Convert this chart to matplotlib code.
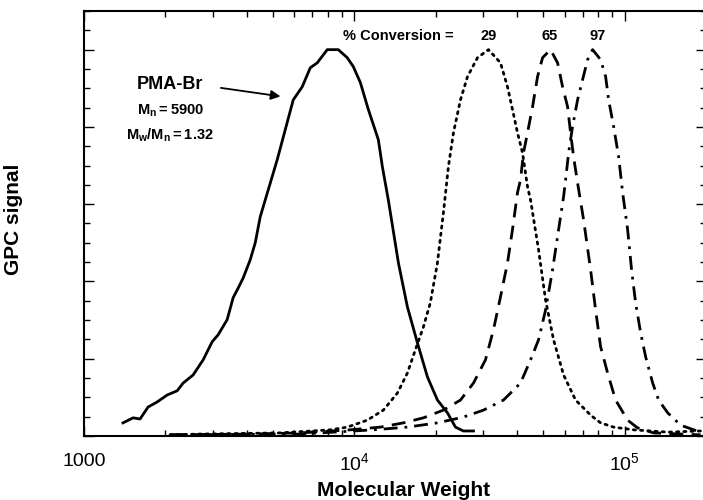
import numpy as np
import matplotlib
matplotlib.use('Agg')
import matplotlib.pyplot as plt
from matplotlib.ticker import FixedLocator, FixedFormatter, LogLocator, MultipleLocator, NullFormatter

plt.rcParams['font.family'] = ['Liberation Sans', 'DejaVu Sans']
plt.rcParams['mathtext.fontset'] = 'custom'
plt.rcParams['mathtext.rm'] = 'Liberation Sans'
plt.rcParams['mathtext.bf'] = 'Liberation Sans:bold'
plt.rcParams['mathtext.default'] = 'regular'

# PMA-Br macroinitiator trace (normalised GPC signal vs molecular weight)
mw_init = [1394, 1519, 1612, 1726, 1864, 2030, 2211, 2326, 2533, 2759, 2980, 3135,
           3385, 3563, 3719, 3880, 4120, 4300, 4486, 4682, 5185, 5944, 6418, 6871,
           7295, 7943, 8722, 9421, 9915, 10525, 11270, 12270, 12700, 13360, 14560,
           15720, 17120, 18640, 20300, 22110, 23670, 25330, 27590]
sig_init = [0.034, 0.047, 0.044, 0.075, 0.088, 0.106, 0.117, 0.137, 0.158, 0.197, 0.244, 0.262,
            0.301, 0.358, 0.383, 0.409, 0.456, 0.500, 0.567, 0.611, 0.715, 0.870, 0.904, 0.953,
            0.966, 1.000, 1.000, 0.979, 0.956, 0.915, 0.845, 0.767, 0.697, 0.611, 0.448,
            0.334, 0.241, 0.153, 0.093, 0.060, 0.023, 0.013, 0.013]

# 29 % conversion
mw_29 = [2080, 2689, 5318, 8150, 9421, 11170, 12810, 14430, 15720, 16820, 18010, 19110,
         20300, 21360, 22290, 23270, 24700, 26220, 28550, 31360, 34730, 36870, 38470,
         40150, 41900, 43730, 44870, 48040, 50990, 54580, 59450, 65850, 74840, 81500,
         91060, 108000, 144300, 191200]
sig_29 = [0.003, 0.005, 0.008, 0.016, 0.023, 0.041, 0.067, 0.111, 0.163, 0.223, 0.282, 0.345,
          0.448, 0.578, 0.697, 0.785, 0.870, 0.930, 0.979, 1.000, 0.966, 0.904, 0.845,
          0.785, 0.733, 0.645, 0.611, 0.482, 0.352, 0.249, 0.158, 0.093, 0.054, 0.034,
          0.023, 0.016, 0.010, 0.013]

# 65 % conversion
mw_65 = [2080, 4120, 6310, 9665, 12490, 15190, 18010, 21360, 24700, 27590, 30560, 32720,
         34730, 36870, 38470, 40150, 41190, 42260, 43730, 45640, 47630, 49700, 53180,
         56480, 58940, 61520, 63100, 64730, 66980, 70480, 74840, 78100, 81500, 86500,
         92620, 102600, 111700, 128100, 191200]
sig_65 = [0.003, 0.005, 0.008, 0.016, 0.023, 0.034, 0.047, 0.067, 0.093, 0.137, 0.197, 0.275,
          0.360, 0.448, 0.534, 0.630, 0.663, 0.733, 0.785, 0.852, 0.930, 0.979, 1.000,
          0.966, 0.904, 0.852, 0.785, 0.723, 0.655, 0.560, 0.430, 0.326, 0.231, 0.163,
          0.093, 0.041, 0.021, 0.008, 0.003]

# 97 % conversion
mw_97 = [2080, 6310, 11760, 15720, 20300, 25330, 30050, 35630, 41190, 44870, 48040, 50990,
         54120, 56970, 59450, 60480, 62050, 64180, 66980, 69890, 72950, 76130, 81500,
         85070, 87250, 91060, 95010, 98310, 102600, 106100, 109800, 114600, 119600,
         127000, 133600, 144300, 161200, 180100, 191200]
sig_97 = [0.003, 0.005, 0.016, 0.023, 0.034, 0.049, 0.067, 0.093, 0.137, 0.197, 0.249, 0.326,
          0.430, 0.534, 0.619, 0.663, 0.733, 0.801, 0.870, 0.922, 0.974, 1.000, 0.974,
          0.930, 0.870, 0.801, 0.723, 0.630, 0.534, 0.430, 0.345, 0.267, 0.205,
          0.137, 0.093, 0.060, 0.028, 0.016, 0.010]

conv_labels = ['29', '65', '97']
conv_label_mw = [31360, 52750, 79430]

fig = plt.figure(figsize=(7.03, 5.0), dpi=100)
ax = fig.add_axes([84 / 703, 64 / 500, 622 / 703, 425 / 500])

ax.plot(mw_init, sig_init, color='black', lw=2.0, solid_joinstyle='round')
ax.plot(mw_29, sig_29, color='black', lw=2.0, linestyle=(0, (0.8, 1.8)), dash_capstyle='round')
ax.plot(mw_65, sig_65, color='black', lw=2.0, linestyle=(0, (5, 3)))
ax.plot(mw_97, sig_97, color='black', lw=2.0, linestyle=(0, (5, 2.5, 1, 2.5)))

ax.set_xscale('log')
ax.set_xlim(1000, 2e5)
ax.set_ylim(0, 1.1)

ax.xaxis.set_major_locator(FixedLocator([1000, 1e4, 1e5]))
ax.xaxis.set_major_formatter(FixedFormatter(['1000', r'$10^4$', r'$10^5$']))
ax.xaxis.set_minor_locator(LogLocator(base=10, subs=np.arange(2, 10)))
ax.xaxis.set_minor_formatter(NullFormatter())
ax.yaxis.set_major_locator(MultipleLocator(0.2))
ax.yaxis.set_minor_locator(MultipleLocator(0.05))
ax.yaxis.set_major_formatter(NullFormatter())

ax.tick_params(which='both', direction='in', top=True, right=True, width=1.0)
ax.tick_params(which='major', length=7)
ax.tick_params(which='minor', length=4)
ax.tick_params(axis='x', labelsize=14, pad=12)
for sp in ax.spines.values():
    sp.set_linewidth(1.5)

ax.set_xlabel('Molecular Weight', fontsize=15, fontweight='bold')
ax.xaxis.set_label_coords(0.514, -0.105)
ax.set_ylabel('GPC signal', fontsize=15, fontweight='bold')
ax.yaxis.set_label_coords(-0.098, 0.51)

# macroinitiator annotation
ax.text(2082, 0.909, 'PMA-Br', fontsize=13, fontweight='bold', ha='center', va='center')
ax.text(2082, 0.832, r'$\mathbf{M_n = 5900}$', fontsize=10.5, ha='center', va='baseline')
ax.text(2082, 0.767, r'$\mathbf{M_w/M_n = 1.32}$', fontsize=10.5, ha='center', va='baseline')
ax.annotate('', xy=(5458, 0.878), xytext=(3136, 0.902),
            arrowprops=dict(arrowstyle='-|>', color='black', lw=1.3, mutation_scale=14))

# conversion labels over each peak
ax.text(23260, 1.034, '% Conversion =', fontsize=10.5, fontweight='bold', ha='right', va='center')
for lab, m in zip(conv_labels, conv_label_mw):
    ax.text(m, 1.034, lab, fontsize=10.5, fontweight='bold', ha='center', va='center')

fig.savefig('out.png', dpi=100)
